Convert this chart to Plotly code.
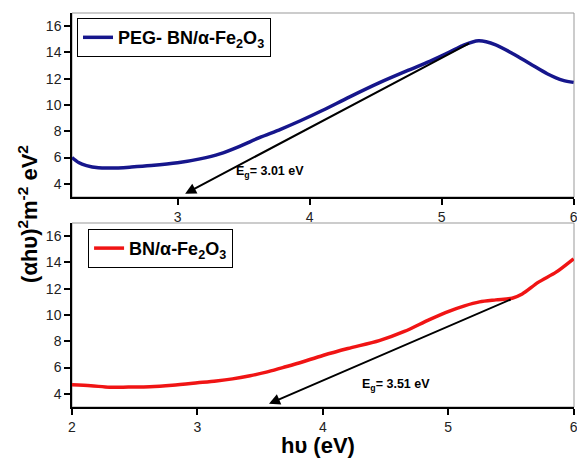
import plotly.graph_objects as go

# PEG-BN/α-Fe2O3 Tauc plot
peg_x = [2.2, 2.25, 2.31, 2.4, 2.5, 2.65, 2.8, 3.0, 3.17, 3.32, 3.47, 3.62, 3.78,
         3.93, 4.1, 4.3, 4.53, 4.75, 4.91, 5.06, 5.16, 5.28, 5.41, 5.54, 5.67,
         5.8, 5.92, 6.0]
peg_y = [6.0, 5.62, 5.39, 5.22, 5.2, 5.28, 5.39, 5.6, 5.9, 6.28, 6.86, 7.52, 8.15,
         8.8, 9.6, 10.6, 11.7, 12.65, 13.32, 14.02, 14.52, 14.88, 14.58, 13.9,
         13.14, 12.38, 11.87, 11.72]

# BN/α-Fe2O3 Tauc plot
bn_x = [2.0, 2.15, 2.3, 2.45, 2.62, 2.8, 3.0, 3.15, 3.28, 3.42, 3.55, 3.68, 3.81,
        4.0, 4.2, 4.45, 4.65, 4.85, 5.01, 5.13, 5.25, 5.38, 5.51, 5.59, 5.72,
        5.86, 6.0]
bn_y = [4.69, 4.62, 4.5, 4.52, 4.55, 4.66, 4.84, 4.98, 5.14, 5.38, 5.65, 6.0, 6.35,
        6.92, 7.45, 8.05, 8.75, 9.65, 10.3, 10.7, 11.0, 11.15, 11.28, 11.6,
        12.5, 13.26, 14.28]

# Band-gap extrapolations: (x-intercept, upper tangent point)
peg_eg = 3.01
peg_tan = (5.22, 14.75)
bn_eg = 3.51
bn_tan = (5.51, 11.23)

y_base = 3
y_range = [3, 17]
y_ticks = [4, 6, 8, 10, 12, 14, 16]
x_ticks = [2, 3, 4, 5, 6]

FONT = "Arial, Liberation Sans, sans-serif"
BLUE = "#16168c"
RED = "#f01414"

fig = go.Figure()

fig.add_trace(go.Scatter(x=peg_x, y=peg_y, mode="lines", xaxis="x", yaxis="y",
                         line=dict(color=BLUE, width=3.5, shape="spline", smoothing=0.8),
                         name="<b>PEG- BN/α-Fe<sub>2</sub>O<sub>3</sub></b>",
                         legend="legend"))
fig.add_trace(go.Scatter(x=bn_x, y=bn_y, mode="lines", xaxis="x2", yaxis="y2",
                         line=dict(color=RED, width=3.5, shape="spline", smoothing=0.8),
                         name="<b>BN/α-Fe<sub>2</sub>O<sub>3</sub></b>",
                         legend="legend2"))


def tangent_arrow(eg, tan, xref, yref):
    # arrow drawn along the tangent, head stopping just above the energy axis
    slope = (tan[1] - y_base) / (tan[0] - eg)
    head_y = y_base + 0.25
    head_x = eg + (head_y - y_base) / slope
    return dict(x=head_x, y=head_y, ax=tan[0], ay=tan[1], xref=xref, yref=yref,
                axref=xref, ayref=yref, showarrow=True, arrowhead=2, arrowsize=1.1,
                arrowwidth=2, arrowcolor="black", text="")


annotations = [
    tangent_arrow(peg_eg, peg_tan, "x", "y"),
    tangent_arrow(bn_eg, bn_tan, "x2", "y2"),
    dict(x=3.70, y=4.9, xref="x", yref="y", showarrow=False,
         text=f"<b>E<sub>g</sub>= {peg_eg:.2f} eV</b>",
         font=dict(family=FONT, size=12.5, color="black")),
    dict(x=4.58, y=4.7, xref="x2", yref="y2", showarrow=False,
         text=f"<b>E<sub>g</sub>= {bn_eg:.2f} eV</b>",
         font=dict(family=FONT, size=12.5, color="black")),
    dict(x=0, y=0.49, xref="paper", yref="paper", xshift=-44, showarrow=False,
         xanchor="center", yanchor="middle", textangle=-90,
         text="<b>(αhυ)<sup>2</sup>m<sup>-2</sup> eV<sup>2</sup></b>",
         font=dict(family=FONT, size=22, color="black")),
    dict(x=0.49, y=0, xref="paper", yref="paper", yshift=-38, showarrow=False,
         xanchor="center", yanchor="middle",
         text="<b>hυ (eV)</b>", font=dict(family=FONT, size=22, color="black")),
]

# thin grey frame around each panel
shapes = [
    dict(type="rect", xref="x domain", yref="y domain", x0=0, x1=1, y0=0, y1=1,
         line=dict(color="#999999", width=1), layer="below"),
    dict(type="rect", xref="x2 domain", yref="y2 domain", x0=0, x1=1, y0=0, y1=1,
         line=dict(color="#999999", width=1), layer="below"),
]

axis_common = dict(showgrid=False, zeroline=False, showline=True, linecolor="black",
                   linewidth=1.5, ticks="outside", ticklen=6, tickwidth=1.5,
                   tickcolor="black", ticklabeloverflow="allow", automargin=False,
                   tickfont=dict(family=FONT, size=14, color="#222"))

fig.update_layout(
    width=577, height=461,
    margin=dict(l=72, r=3, t=13, b=54, autoexpand=False),
    paper_bgcolor="white", plot_bgcolor="white",
    xaxis=dict(range=[2.2, 6.003], tickvals=x_ticks, anchor="y", domain=[0, 1], **axis_common),
    yaxis=dict(range=y_range, tickvals=y_ticks, anchor="x", domain=[0.533, 1], **axis_common),
    xaxis2=dict(range=[2, 6.003], tickvals=x_ticks, anchor="y2", domain=[0, 1], **axis_common),
    yaxis2=dict(range=y_range, tickvals=y_ticks, anchor="x2", domain=[0, 0.467], **axis_common),
    legend=dict(x=0.01, y=0.987, xanchor="left", yanchor="top", bgcolor="white",
                bordercolor="black", borderwidth=1,
                font=dict(family=FONT, size=18, color="black")),
    legend2=dict(x=0.032, y=0.452, xanchor="left", yanchor="top", bgcolor="white",
                 bordercolor="black", borderwidth=1,
                 font=dict(family=FONT, size=18, color="black")),
    annotations=annotations,
    shapes=shapes,
    showlegend=True,
)

fig.write_html("out.html")
